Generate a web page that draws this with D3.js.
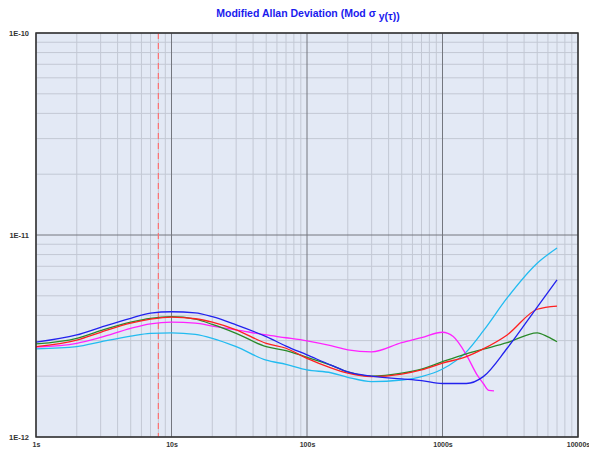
<!DOCTYPE html>
<html><head><meta charset="utf-8">
<script src="https://cdn.jsdelivr.net/npm/d3@7"></script>
<style>body{margin:0;background:#fff}svg{display:block}</style>
</head><body>
<script>
const xTicks = [1, 10, 100, 1000, 10000];
const xTickLabels = ["1s", "10s", "100s", "1000s", "10000s"];
const yTicks = [1e-12, 1e-11, 1e-10];
const yTickLabels = ["1E-12", "1E-11", "1E-10"];
const markerTau = 8;

const tauA = [1,2,3,5,7,10,15,20,30,50,70,100,150,200,300,500,700,1000,1500,2000,3000,5000,7000];
const blueVals  = [2.95,3.20,3.49,3.87,4.10,4.17,4.12,3.94,3.59,3.14,2.82,2.55,2.27,2.10,2.00,1.94,1.90,1.84,1.84,1.99,2.75,4.40,5.99];
const redVals   = [2.80,3.02,3.30,3.66,3.83,3.92,3.85,3.70,3.39,2.91,2.75,2.45,2.20,2.07,1.99,2.05,2.15,2.32,2.50,2.73,3.20,4.29,4.45];
const cyanVals  = [2.73,2.80,2.96,3.16,3.26,3.28,3.22,3.08,2.80,2.40,2.29,2.15,2.08,1.975,1.88,1.915,1.99,2.17,2.64,3.35,4.88,7.25,8.62];
const tauG = [1,2,3,5,7,10,15,20,30,50,70,100,150,200,300,500,700,1000,1500,2000,3000,5000,6000,7000];
const greenVals = [2.89,3.08,3.36,3.70,3.87,3.94,3.83,3.61,3.26,2.80,2.68,2.48,2.27,2.10,2.00,2.07,2.17,2.36,2.58,2.72,2.93,3.28,3.13,2.96];
const tauM = [1,2,3,5,7,10,15,20,30,50,70,100,150,200,300,500,700,1000,1200,1500,1800,2000,2200,2400];
const magentaVals = [2.79,2.91,3.11,3.45,3.63,3.70,3.66,3.54,3.39,3.20,3.10,2.99,2.83,2.70,2.64,2.93,3.10,3.30,3.14,2.55,2.03,1.84,1.70,1.69];

const series = [
  {tau: tauA, vals: cyanVals, color: "#22bbf0"},
  {tau: tauM, vals: magentaVals, color: "#ff22ff"},
  {tau: tauG, vals: greenVals, color: "#2a8a2a"},
  {tau: tauA, vals: redVals, color: "#ff2020"},
  {tau: tauA, vals: blueVals, color: "#2222ee"}
];

const W = 589, H = 455;
const m = {l: 36, r: 11, t: 33, b: 18};
const svg = d3.select("body").append("svg").attr("width", W).attr("height", H);
const x = d3.scaleLog().domain([1, 10000]).range([m.l, W - m.r]);
const y = d3.scaleLog().domain([1e-12, 1e-10]).range([H - m.b, m.t]);

svg.append("rect").attr("x", m.l).attr("y", m.t).attr("width", W - m.l - m.r).attr("height", H - m.t - m.b).attr("fill", "#e3e9f5");

// minor grid
const xMinor = [], yMinor = [];
for (let d = 1; d < 10000; d *= 10) for (let k = 2; k <= 9; k++) xMinor.push(d * k);
for (let d = 1e-12; d < 1e-10 * 0.99; d *= 10) for (let k = 2; k <= 9; k++) yMinor.push(d * k);
const g = svg.append("g");
g.selectAll(".xm").data(xMinor).join("line").attr("x1", d => x(d)).attr("x2", d => x(d)).attr("y1", m.t).attr("y2", H - m.b).attr("stroke", "#c3c8d4").attr("stroke-width", 1);
g.selectAll(".ym").data(yMinor).join("line").attr("y1", d => y(d)).attr("y2", d => y(d)).attr("x1", m.l).attr("x2", W - m.r).attr("stroke", "#c3c8d4").attr("stroke-width", 1);
g.selectAll(".xM").data(xTicks).join("line").attr("x1", d => x(d)).attr("x2", d => x(d)).attr("y1", m.t).attr("y2", H - m.b).attr("stroke", "#74777f").attr("stroke-width", 1);
g.selectAll(".yM").data(yTicks).join("line").attr("y1", d => y(d)).attr("y2", d => y(d)).attr("x1", m.l).attr("x2", W - m.r).attr("stroke", "#74777f").attr("stroke-width", 1);

// marker
svg.append("line").attr("x1", x(markerTau)).attr("x2", x(markerTau)).attr("y1", m.t).attr("y2", H - m.b)
  .attr("stroke", "#ff7070").attr("stroke-width", 1.2).attr("stroke-dasharray", "6,4");

const line = d3.line().x(d => x(d[0])).y(d => y(d[1] * 1e-12)).curve(d3.curveMonotoneX);
series.forEach(s => {
  svg.append("path").datum(s.tau.map((t, i) => [t, s.vals[i]])).attr("d", line)
    .attr("fill", "none").attr("stroke", s.color).attr("stroke-width", 1.3);
});

// frame
svg.append("rect").attr("x", m.l).attr("y", m.t).attr("width", W - m.l - m.r).attr("height", H - m.t - m.b)
  .attr("fill", "none").attr("stroke", "#333").attr("stroke-width", 1.5);

// axes labels
const xAxis = d3.axisBottom(x).tickValues(xTicks).tickFormat((d, i) => xTickLabels[i]).tickSize(0).tickPadding(5);
const ax = svg.append("g").attr("transform", `translate(0,${H - m.b})`).call(xAxis);
ax.select(".domain").remove();
ax.selectAll("text").attr("font-family", "Liberation Sans, Arial, sans-serif").attr("font-size", 7).attr("font-weight", "bold").attr("fill", "#333");
const yAxis = d3.axisLeft(y).tickValues(yTicks).tickFormat((d, i) => yTickLabels[i]).tickSize(0).tickPadding(7);
const ay = svg.append("g").attr("transform", `translate(${m.l},0)`).call(yAxis);
ay.select(".domain").remove();
ay.selectAll("text").attr("font-family", "Liberation Sans, Arial, sans-serif").attr("font-size", 7.5).attr("font-weight", "bold").attr("fill", "#333");

// title
const t = svg.append("text").attr("x", 308).attr("y", 17).attr("text-anchor", "middle")
  .attr("font-family", "Liberation Sans, Arial, sans-serif").attr("font-size", 10.5).attr("font-weight", "bold").attr("fill", "#1a1aee");
t.append("tspan").text("Modified Allan Deviation (Mod σ ");
t.append("tspan").attr("dy", 3).text("y(τ))");
</script>
</body></html>
